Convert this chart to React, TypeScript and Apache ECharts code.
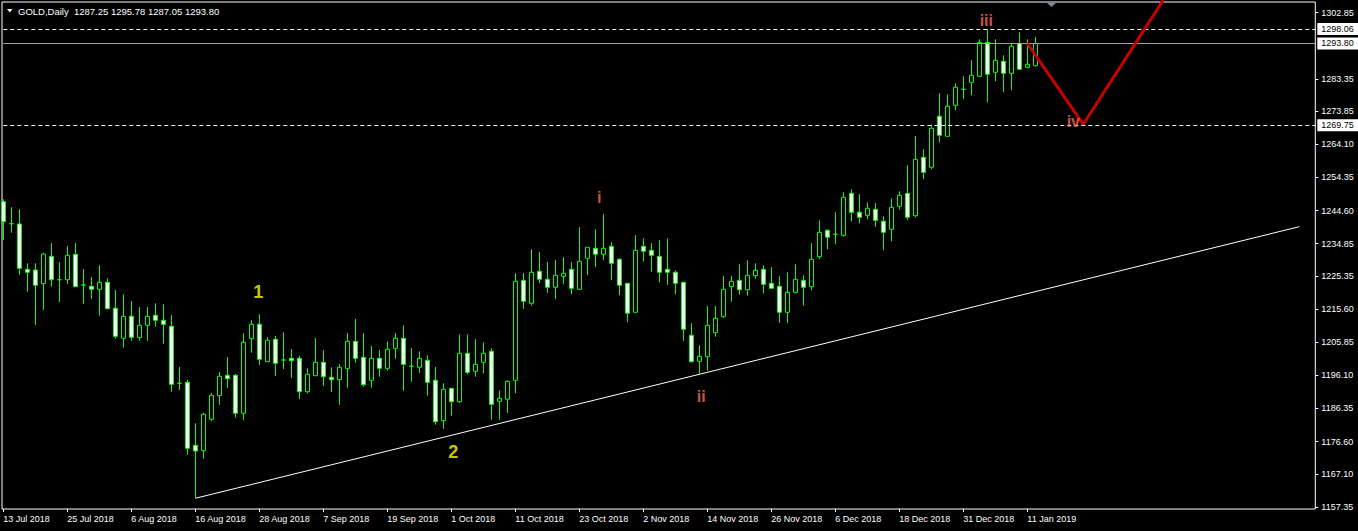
import React, { useEffect, useRef } from "react";
import * as echarts from "echarts";

// ---- data ----
const symbolTitle = "GOLD,Daily  1287.25 1295.78 1287.05 1293.80";

const opens = [
  1247.21, 1240.73, 1240.65, 1227.31, 1227.1, 1223.07, 1231.13, 1224.25, 1224.25, 1231.72,
  1222.69, 1222.3, 1221.42, 1223.48, 1215.83, 1207.0, 1213.47, 1207.17, 1210.82, 1213.77,
  1212.29, 1210.53, 1193.75, 1194.04, 1175.49, 1173.9, 1183.15, 1190.1, 1196.1, 1196.1,
  1184.92, 1206.88, 1211.12, 1200.11, 1206.7, 1200.61, 1201.11, 1201.11, 1191.27, 1195.98,
  1199.93, 1195.51, 1194.81, 1198.04, 1206.11, 1201.4, 1194.63, 1201.11, 1198.16, 1204.05,
  1207.0, 1198.75, 1198.46, 1200.52, 1194.63, 1182.74, 1192.27, 1188.33, 1202.58, 1197.28,
  1199.93, 1203.17, 1188.45, 1189.04, 1194.63, 1224.07, 1217.3, 1226.72, 1224.36, 1222.01,
  1225.25, 1227.31, 1221.42, 1230.55, 1233.49, 1231.72, 1234.08, 1230.25, 1223.19, 1214.65,
  1234.08, 1232.9, 1231.13, 1227.31, 1226.43, 1223.48, 1207.88, 1200.23, 1201.58, 1208.64,
  1213.35, 1222.19, 1224.07, 1221.3, 1225.42, 1227.31, 1223.19, 1222.3, 1214.65, 1220.54,
  1224.07, 1222.19, 1231.02, 1238.79, 1237.61, 1237.32, 1249.68, 1244.09, 1243.21, 1244.97,
  1241.44, 1239.08, 1245.85, 1249.68, 1243.09, 1260.28, 1257.34, 1272.35, 1266.46, 1275.59,
  1280.3, 1282.36, 1284.13, 1294.14, 1285.31, 1288.54, 1285.01, 1293.84, 1286.78, 1287.25,
];

const closes = [
  1241.32, 1240.73, 1227.6, 1226.43, 1222.6, 1231.81, 1224.25, 1224.25, 1231.43, 1222.19,
  1222.69, 1221.42, 1223.48, 1215.71, 1207.58, 1213.47, 1207.29, 1210.82, 1213.47, 1212.29,
  1211.11, 1193.45, 1193.75, 1174.61, 1173.82, 1184.62, 1190.21, 1195.81, 1195.1, 1184.92,
  1205.82, 1211.12, 1200.81, 1206.41, 1199.64, 1200.61, 1200.4, 1191.27, 1196.4, 1199.93,
  1195.69, 1194.81, 1198.46, 1206.11, 1201.11, 1193.33, 1201.11, 1198.16, 1203.76, 1207.0,
  1199.34, 1198.75, 1201.11, 1194.04, 1182.44, 1191.98, 1188.33, 1202.58, 1196.98, 1199.34,
  1202.58, 1187.56, 1189.33, 1194.33, 1223.77, 1217.89, 1226.43, 1224.36, 1222.01, 1225.54,
  1226.13, 1221.71, 1229.66, 1233.78, 1231.72, 1233.49, 1229.07, 1222.6, 1214.36, 1232.9,
  1232.61, 1231.43, 1226.43, 1226.43, 1223.19, 1209.64, 1200.11, 1201.69, 1210.82, 1212.88,
  1221.42, 1223.77, 1221.3, 1225.54, 1227.01, 1222.89, 1221.71, 1214.65, 1220.54, 1224.36,
  1222.01, 1230.25, 1238.2, 1236.73, 1237.61, 1248.5, 1244.09, 1242.62, 1245.27, 1241.73,
  1238.2, 1245.56, 1249.09, 1242.62, 1259.69, 1255.86, 1268.82, 1266.76, 1275.3, 1280.89,
  1280.3, 1284.42, 1294.14, 1284.72, 1288.84, 1285.01, 1292.96, 1286.19, 1287.66, 1293.8,
];

const lows = [
  1235.93, 1238.08, 1225.63, 1220.71, 1210.91, 1215.33, 1222.19, 1217.68, 1222.98, 1222.19,
  1217.18, 1218.56, 1213.65, 1215.53, 1206.88, 1204.23, 1206.29, 1206.29, 1206.29, 1210.41,
  1205.41, 1191.27, 1191.77, 1172.73, 1159.89, 1171.55, 1182.56, 1187.45, 1192.36, 1183.62,
  1182.85, 1202.76, 1199.13, 1200.11, 1195.9, 1197.95, 1195.31, 1189.12, 1190.8, 1195.98,
  1192.95, 1191.18, 1187.45, 1192.45, 1199.81, 1192.74, 1192.45, 1195.69, 1197.46, 1200.99,
  1191.57, 1194.22, 1196.87, 1190.1, 1181.56, 1180.38, 1184.21, 1188.03, 1196.4, 1195.69,
  1196.69, 1183.03, 1183.03, 1185.09, 1190.8, 1215.71, 1216.59, 1223.19, 1220.42, 1218.47,
  1222.89, 1219.95, 1221.42, 1225.54, 1227.9, 1229.96, 1224.07, 1219.65, 1211.71, 1214.36,
  1229.66, 1226.6, 1223.48, 1222.77, 1219.95, 1206.29, 1199.81, 1196.28, 1197.46, 1207.47,
  1213.06, 1217.77, 1219.83, 1219.54, 1224.54, 1220.24, 1221.71, 1211.59, 1211.41, 1220.24,
  1216.59, 1221.12, 1230.25, 1233.2, 1234.67, 1236.9, 1241.44, 1240.85, 1242.03, 1239.85,
  1232.9, 1235.55, 1244.85, 1241.73, 1242.62, 1253.8, 1256.75, 1264.7, 1266.46, 1274.12,
  1277.36, 1278.53, 1284.13, 1276.47, 1282.66, 1279.42, 1280.01, 1286.19, 1286.48, 1287.05,
];

const highs = [
  1247.92, 1245.56, 1244.97, 1229.07, 1229.07, 1232.2, 1235.05, 1229.46, 1234.17, 1235.05,
  1227.4, 1225.04, 1228.48, 1224.66, 1221.21, 1219.95, 1217.97, 1216.12, 1216.21, 1217.3,
  1217.0, 1213.85, 1198.55, 1194.72, 1181.97, 1185.09, 1190.98, 1197.07, 1201.49, 1196.48,
  1208.47, 1212.29, 1214.06, 1207.29, 1207.67, 1208.76, 1203.85, 1201.87, 1198.16, 1207.08,
  1203.55, 1198.46, 1199.43, 1208.56, 1212.67, 1208.56, 1204.73, 1203.55, 1206.11, 1208.56,
  1210.82, 1204.14, 1203.17, 1201.99, 1198.55, 1193.75, 1192.27, 1208.17, 1208.17, 1206.7,
  1205.82, 1204.05, 1191.69, 1194.63, 1226.13, 1226.22, 1233.2, 1232.4, 1229.46, 1230.05,
  1230.84, 1229.46, 1239.67, 1233.78, 1239.08, 1243.59, 1235.26, 1230.55, 1223.19, 1237.32,
  1236.43, 1234.96, 1235.85, 1236.43, 1227.01, 1223.48, 1211.41, 1204.93, 1216.5, 1216.5,
  1225.34, 1225.34, 1228.78, 1229.96, 1229.07, 1228.48, 1227.9, 1225.25, 1226.43, 1228.78,
  1225.54, 1234.96, 1241.73, 1239.08, 1244.09, 1249.98, 1250.86, 1249.48, 1247.03, 1246.74,
  1242.91, 1248.21, 1250.27, 1257.92, 1266.55, 1262.64, 1269.99, 1279.12, 1278.83, 1282.07,
  1284.13, 1288.84, 1295.02, 1298.06, 1295.02, 1290.31, 1293.84, 1297.08, 1295.02, 1295.78,
];

// price-scale tick labels shown on the right
const yTickValues = [
  1157.35, 1167.1, 1176.6, 1186.35, 1196.1, 1205.85, 1215.6, 1225.35, 1234.85, 1244.6,
  1254.35, 1264.1, 1273.85, 1283.35, 1302.85,
];
const yMin = 1156.74;
const yMax = 1306.0;

// horizontal levels
const levelHigh = 1298.06; // dashed
const levelBid = 1293.8; // solid grey
const levelLow = 1269.75; // dashed

// trend line (bar index, price)
const trendLine = [
  [24, 1159.89],
  [162, 1239.85],
];
// projected wave path (bar index, price)
const wavePath = [
  [128, 1293.8],
  [135, 1270.0],
  [145, 1306.6],
];

// wave labels
const waveTexts = ["1", "2", "i", "ii", "iii", "iv"];
const waveIndex = [32, 56, 74, 87, 123, 134];
const wavePrice = [1220.7, 1173.6, 1248.5, 1190.0, 1300.5, 1270.8];

const holidays = ["2018-12-25", "2019-01-01"];
const firstDay = "2018-07-13";
const totalSlots = 165;
const labelEvery = 8;

const MONTHS = ["Jan", "Feb", "Mar", "Apr", "May", "Jun", "Jul", "Aug", "Sep", "Oct", "Nov", "Dec"];

function tradingDays(start: string, count: number): string[] {
  const out: string[] = [];
  const d = new Date(start + "T00:00:00Z");
  while (out.length < count) {
    const iso = d.toISOString().slice(0, 10);
    const wd = d.getUTCDay();
    if (wd !== 0 && wd !== 6 && holidays.indexOf(iso) < 0) {
      out.push(`${d.getUTCDate()} ${MONTHS[d.getUTCMonth()]} ${d.getUTCFullYear()}`);
    }
    d.setUTCDate(d.getUTCDate() + 1);
  }
  return out;
}

const FONT = 'Tahoma, "Liberation Sans", Arial, sans-serif';

export default function App() {
  const ref = useRef<HTMLDivElement>(null);

  useEffect(() => {
    if (!ref.current) return;
    const chart = echarts.init(ref.current, undefined, { renderer: "svg" });

    const categories = tradingDays(firstDay, totalSlots);
    const lastBar = opens.length - 1;
    const candleData = opens.map((o, i) => [o, closes[i], lows[i], highs[i]]);
    const showLabel = (index: number) => index % labelEvery === 0 && index <= lastBar;

    const waveData = waveTexts.map((t, i) => {
      const roman = i >= 2;
      const offsets = [-1, 2, 4, 2, -1, -2];
      return {
        value: [waveIndex[i], wavePrice[i]],
        label: {
          show: true,
          position: "inside",
          formatter: t,
          color: roman ? "#ff6b5e" : "#ffff00",
          fontSize: roman ? 16 : 18,
          fontWeight: "bold",
          fontFamily: '"Liberation Sans", Arial, sans-serif',
          offset: [offsets[i], 0],
        },
      };
    });

    const boxLabel = {
      show: true,
      position: "end",
      distance: 2,
      formatter: (p: any) => Number(p.value).toFixed(2),
      backgroundColor: "#ffffff",
      color: "#000000",
      fontSize: 9,
      fontFamily: FONT,
      padding: [2, 5, 1, 4],
    };

    chart.setOption({
      animation: false,
      backgroundColor: "#000000",
      textStyle: { fontFamily: FONT },
      grid: [
        {
          left: 3.3,
          top: 2,
          width: 1312,
          height: 507,
          outerBoundsMode: "none",
          containLabel: false,
        },
        {
          left: 2,
          top: 2,
          width: 1313.3,
          height: 507,
          show: true,
          borderColor: "#ffffff",
          borderWidth: 1,
          backgroundColor: "transparent",
          outerBoundsMode: "none",
          containLabel: false,
        },
      ],
      xAxis: [
        {
          type: "category",
          gridIndex: 0,
          data: categories,
          boundaryGap: false,
          axisLine: { show: false },
          axisTick: {
            show: true,
            interval: (i: number) => showLabel(i),
            length: 3,
            lineStyle: { color: "#ffffff" },
          },
          axisLabel: {
            interval: (i: number) => showLabel(i),
            align: "left",
            color: "#ffffff",
            fontSize: 9,
            fontFamily: FONT,
            margin: 5,
          },
          splitLine: { show: false },
        },
        { type: "value", gridIndex: 1, show: false },
      ],
      yAxis: [
        {
          type: "value",
          gridIndex: 0,
          position: "right",
          min: yMin,
          max: yMax,
          axisLine: { show: false },
          splitLine: { show: false },
          axisTick: {
            show: true,
            length: 3,
            customValues: yTickValues,
            lineStyle: { color: "#ffffff" },
          },
          axisLabel: {
            customValues: yTickValues,
            formatter: (v: number) => v.toFixed(2),
            color: "#ffffff",
            fontSize: 9,
            fontFamily: FONT,
            margin: 6,
          },
        },
        { type: "value", gridIndex: 1, show: false },
      ],
      graphic: [
        {
          type: "polygon",
          shape: { points: [[7, 9], [12.5, 9], [9.75, 12.5]] },
          style: { fill: "#ffffff" },
          silent: true,
        },
        {
          type: "text",
          x: 18,
          y: 11,
          style: {
            text: symbolTitle,
            fill: "#ffffff",
            fontSize: 9.5,
            fontFamily: FONT,
            verticalAlign: "middle",
          },
          silent: true,
        },
        {
          type: "polygon",
          shape: { points: [[1047, 3], [1056, 3], [1051.5, 7]] },
          style: { fill: "#7d8896" },
          silent: true,
        },
      ],
      series: [
        {
          type: "line",
          xAxisIndex: 0,
          yAxisIndex: 0,
          data: trendLine,
          symbol: "none",
          silent: true,
          clip: false,
          lineStyle: { color: "#ffffff", width: 1 },
          z: 2,
        },
        {
          type: "candlestick",
          xAxisIndex: 0,
          yAxisIndex: 0,
          data: candleData,
          barWidth: 5,
          clip: false,
          silent: true,
          z: 3,
          itemStyle: {
            color: "#000000",
            color0: "#ffffff",
            borderColor: "#00ff00",
            borderColor0: "#00ff00",
            borderColorDoji: "#00ff00",
            borderWidth: 1,
          },
          markLine: {
            silent: true,
            symbol: ["none", "none"],
            animation: false,
            data: [
              {
                yAxis: levelHigh,
                lineStyle: { color: "#ffffff", width: 1, type: [4, 3] },
                label: boxLabel,
              },
              {
                yAxis: levelBid,
                lineStyle: { color: "#a0a0a0", width: 1, type: "solid" },
                label: boxLabel,
              },
              {
                yAxis: levelLow,
                lineStyle: { color: "#ffffff", width: 1, type: [4, 3] },
                label: boxLabel,
              },
            ],
          },
        },
        {
          type: "line",
          xAxisIndex: 0,
          yAxisIndex: 0,
          data: wavePath,
          symbol: "none",
          silent: true,
          clip: false,
          lineStyle: { color: "#c80000", width: 3 },
          z: 5,
        },
        {
          type: "scatter",
          xAxisIndex: 0,
          yAxisIndex: 0,
          data: waveData,
          symbolSize: 0,
          silent: true,
          clip: false,
          z: 6,
        },
      ],
    });

    return () => chart.dispose();
  }, []);

  return (
    <div
      ref={ref}
      style={{ position: "fixed", left: 0, top: 0, width: 1358, height: 531 }}
    />
  );
}
